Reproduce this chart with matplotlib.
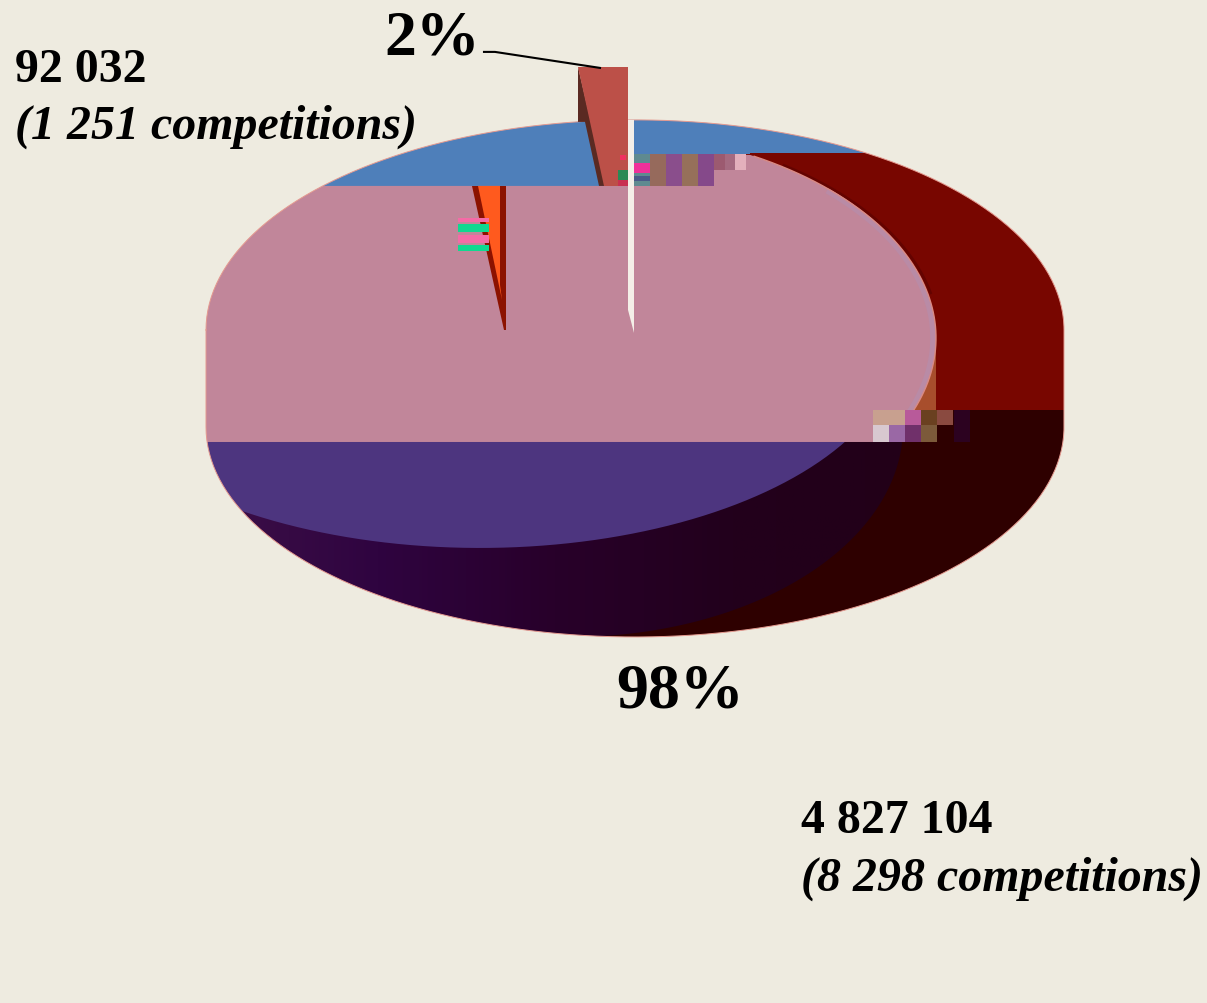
import numpy as np
import matplotlib
matplotlib.use("Agg")
import matplotlib.pyplot as plt
from matplotlib.colors import LinearSegmentedColormap
from matplotlib.patches import PathPatch, Polygon, Rectangle
from matplotlib.path import Path

# Data
shares = ["2%", "98%"]
spectators = ["92 032", "4 827 104"]
competitions = ["(1 251 competitions)", "(8 298 competitions)"]

# Colours
BG = "#eeebe0"
BLUE = "#4e7fba"
PINK = "#c1869a"
DARK_RED = "#780600"
DARKER_RED = "#2e0000"
PURPLE = "#4d357f"

# Compression blocks around the slice seams: colour rows
top_blocks = ["#966a5c", "#8a4e8c", "#96705a", "#85498a"]
top_blocks2 = ["#9c5a70", "#a56a80", "#e3b0bc"]
low_row1 = ["#c8a08f", "#c8a08f", "#b85a9a", "#6a4020", "#8a4a40"]
low_row2 = ["#d8c8d0", "#9a68a5", "#70306a", "#7c5a3a"]
stripe_cols = ["#f56aa6", "#10d890", "#f56aa6", "#10d890"]


def arc(cx, cy, rx, ry, t0, t1, n=200):
    t = np.radians(np.linspace(t0, t1, n))
    return np.column_stack([cx + rx * np.cos(t), cy + ry * np.sin(t)])


fig = plt.figure(figsize=(12.07, 10.031), dpi=100, facecolor=BG)
ax = fig.add_axes([0, 0, 1, 1])
ax.set_xlim(0, 1207)
ax.set_ylim(1003, 0)
ax.axis("off")


def box(x0, y0, x1, y1, color, z=1):
    ax.add_patch(Rectangle((x0, y0), x1 - x0, y1 - y0, fc=color, ec="none", zorder=z))


# Body of the pie, masked to the outline later
box(0, 0, 1207, 153, BLUE)
box(0, 153, 650, 186, BLUE)
box(650, 153, 1207, 410, DARK_RED)
box(0, 410, 1207, 1003, DARKER_RED)
box(954, 410, 970, 442, "#2c0220", 1)

# Dark purple wall under the large slice
wall = np.vstack([arc(571, 427, 332, 210, 0, 90), [[0, 637], [0, 400], [903, 400]]])
wall_patch = Polygon(wall, fc="none", ec="none", zorder=2)
ax.add_patch(wall_patch)
cmap = LinearSegmentedColormap.from_list("wall", ["#3d1048", "#2f0440", "#28002a", "#22001c", "#220018"])
im = ax.imshow(np.linspace(0, 1, 256)[None, :], extent=(200, 910, 640, 400), cmap=cmap, aspect="auto", zorder=2)
im.set_clip_path(wall_patch)
ax.set_xlim(0, 1207)
ax.set_ylim(1003, 0)

# Purple face
below = Rectangle((0, 442), 1207, 561, transform=ax.transData)
face = Polygon(arc(480, 338, 420, 210, 0, 360), fc=PURPLE, ec="none", zorder=3)
ax.add_patch(face)
face.set_clip_path(below)

# Brown sliver and pink face
box(880, 330, 936, 410, "#a84e2c", 3)
pink_arc = arc(571, 338, 365, 210, -60.6, 29.7)
pink = np.vstack([[[0, 186], [650, 186], [650, 153]], pink_arc, [[0, pink_arc[-1, 1]]]])
ax.add_patch(Polygon(pink, fc=PINK, ec="none", zorder=4))

# Arc edge of the pink face: shadow outside, lilac band inside
shadow = arc(573, 338, 366, 211, -55, -12)
ax.plot(shadow[:, 0], shadow[:, 1], color="#640300", lw=2, solid_capstyle="butt", zorder=3.5)
band = arc(571, 338, 362, 208, -45, 25)
ax.plot(band[:, 0], band[:, 1], color="#b98ba6", lw=4, solid_capstyle="butt", zorder=4)
edge = arc(571, 338, 365, 210, -60, 25)
ax.plot(edge[:, 0], edge[:, 1], color="#d98a84", lw=1, solid_capstyle="butt", zorder=4)

# Outline mask
top = arc(635, 330, 429, 210, 180, 360)
bottom = arc(635, 427, 429, 210, 0, 180)
outline = np.vstack([top, bottom, top[:1]])
rect = [(0, 0), (1207, 0), (1207, 1003), (0, 1003), (0, 0)]
verts = np.vstack([rect, outline[::-1]])
codes = [Path.MOVETO] + [Path.LINETO] * 3 + [Path.CLOSEPOLY]
codes += [Path.MOVETO] + [Path.LINETO] * (len(outline) - 1)
ax.add_patch(PathPatch(Path(verts, codes), fc=BG, ec="none", zorder=5))
ax.plot(outline[:, 0], outline[:, 1], color="#e59a90", lw=0.7, zorder=5)

# Blocks at the top seam
box(650, 152, 750, 154.5, BLUE, 5.5)
for i, c in enumerate(top_blocks):
    box(650 + i * 16, 154, 666 + i * 16, 186, c, 6)
for i, c in enumerate(top_blocks2):
    box(714 + i * 10.7, 154, 725 + i * 10.7, 170, c, 6)
box(634, 154, 650, 186, "#5f8a90", 6)
box(634, 163, 650, 173, "#f0309a", 6)
box(634, 176, 650, 181, "#4a5a88", 6)

# Lower seam blocks
for i, c in enumerate(low_row1):
    box(873 + i * 16, 410, 889 + i * 16, 425, c, 6)
for i, c in enumerate(low_row2):
    box(873 + i * 16, 425, 889 + i * 16, 442, c, 6)

# Small slice lifted out of the pie
ax.add_patch(Polygon([(578, 67), (578, 122), (585, 122), (599, 186), (606, 186)], fc="#5a2a22", ec="none", zorder=7))
ax.add_patch(Polygon([(578, 67), (628, 67), (628, 186), (604, 186)], fc="#bc5048", ec="none", zorder=7))
box(618, 170, 628, 180, "#2a8a55", 8)
box(618, 180, 628, 186, "#c83050", 8)
box(620, 155, 626, 160, "#f03060", 8)

# White gap
ax.add_patch(Polygon([(628, 120), (634, 120), (634, 333), (628, 310)], fc="#f4efe8", ec="none", zorder=7))

# Orange slice seam
ax.add_patch(Polygon([(472, 186), (506, 186), (506, 330), (504, 330)], fc="#8c1200", ec="none", zorder=7))
ax.add_patch(Polygon([(478, 186), (500, 186), (500, 285), (502, 300)], fc="#ff5a1e", ec="none", zorder=7))
stripe_y = [(218, 222), (224, 232), (235, 243), (245, 251)]
for (y0, y1), c in zip(stripe_y, stripe_cols):
    box(458, y0, 489, y1, c, 8)

# Leader line
ax.plot([484, 495, 600], [52, 52, 68], color="black", lw=1.5, zorder=9)

# Labels
serif = "Liberation Serif"
ax.text(384, 54, shares[0], family=serif, weight="bold", fontsize=46, zorder=10)
ax.text(616, 707, shares[1], family=serif, weight="bold", fontsize=46, zorder=10)
ax.text(15, 82, spectators[0], family=serif, weight="bold", fontsize=34.5, zorder=10)
ax.text(15, 139, competitions[0], family=serif, weight="bold", style="italic", fontsize=34.5, zorder=10)
ax.text(801, 833, spectators[1], family=serif, weight="bold", fontsize=34.5, zorder=10)
ax.text(801, 891, competitions[1], family=serif, weight="bold", style="italic", fontsize=34.5, zorder=10)

fig.savefig("out.png", dpi=100, facecolor=BG)
